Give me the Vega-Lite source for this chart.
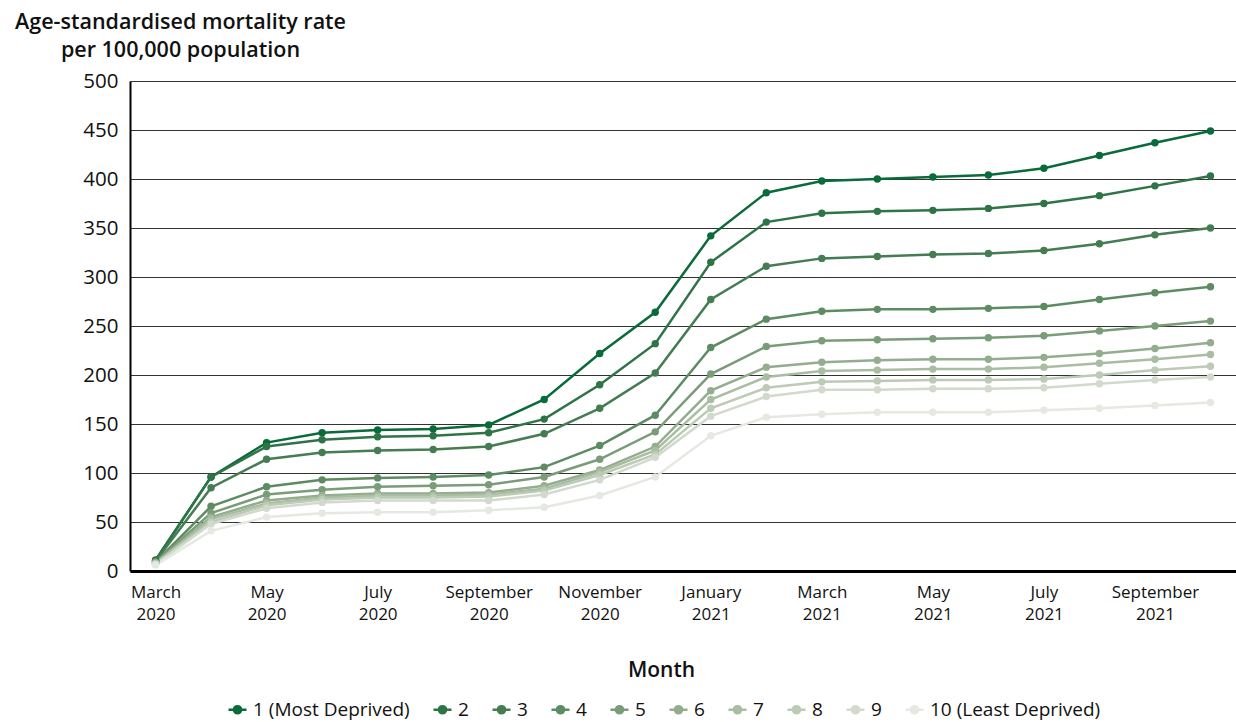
{
  "$schema": "https://vega.github.io/schema/vega-lite/v6.json",
  "autosize": "none",
  "width": 1106,
  "height": 490,
  "padding": {"left": 130, "top": 81, "right": 0, "bottom": 151},
  "background": "white",
  "config": {
    "font": "Open Sans",
    "view": {"stroke": null}
  },
  "data": {
    "values": [
      {"month": "March 2020", "g1": 11, "g2": 11, "g3": 10, "g4": 9, "g5": 9, "g6": 8, "g7": 8, "g8": 7, "g9": 7, "g10": 6},
      {"month": "April 2020", "g1": 96, "g2": 96, "g3": 85, "g4": 66, "g5": 59, "g6": 55, "g7": 53, "g8": 50, "g9": 48, "g10": 41},
      {"month": "May 2020", "g1": 131, "g2": 127, "g3": 114, "g4": 86, "g5": 78, "g6": 72, "g7": 69, "g8": 67, "g9": 64, "g10": 55},
      {"month": "June 2020", "g1": 141, "g2": 134, "g3": 121, "g4": 93, "g5": 83, "g6": 77, "g7": 75, "g8": 73, "g9": 70, "g10": 59},
      {"month": "July 2020", "g1": 144, "g2": 137, "g3": 123, "g4": 95, "g5": 86, "g6": 79, "g7": 77, "g8": 75, "g9": 72, "g10": 60},
      {"month": "August 2020", "g1": 145, "g2": 138, "g3": 124, "g4": 96, "g5": 87, "g6": 79, "g7": 77, "g8": 75, "g9": 72, "g10": 60},
      {"month": "September 2020", "g1": 149, "g2": 141, "g3": 127, "g4": 98, "g5": 88, "g6": 80, "g7": 78, "g8": 76, "g9": 72, "g10": 62},
      {"month": "October 2020", "g1": 175, "g2": 155, "g3": 140, "g4": 106, "g5": 96, "g6": 87, "g7": 84, "g8": 82, "g9": 78, "g10": 65},
      {"month": "November 2020", "g1": 222, "g2": 190, "g3": 166, "g4": 128, "g5": 114, "g6": 103, "g7": 101, "g8": 98, "g9": 93, "g10": 77},
      {"month": "December 2020", "g1": 264, "g2": 232, "g3": 202, "g4": 159, "g5": 142, "g6": 127, "g7": 123, "g8": 119, "g9": 116, "g10": 96},
      {"month": "January 2021", "g1": 342, "g2": 315, "g3": 277, "g4": 228, "g5": 201, "g6": 184, "g7": 175, "g8": 166, "g9": 158, "g10": 138},
      {"month": "February 2021", "g1": 386, "g2": 356, "g3": 311, "g4": 257, "g5": 229, "g6": 208, "g7": 198, "g8": 187, "g9": 178, "g10": 157},
      {"month": "March 2021", "g1": 398, "g2": 365, "g3": 319, "g4": 265, "g5": 235, "g6": 213, "g7": 204, "g8": 193, "g9": 185, "g10": 160},
      {"month": "April 2021", "g1": 400, "g2": 367, "g3": 321, "g4": 267, "g5": 236, "g6": 215, "g7": 205, "g8": 194, "g9": 185, "g10": 162},
      {"month": "May 2021", "g1": 402, "g2": 368, "g3": 323, "g4": 267, "g5": 237, "g6": 216, "g7": 206, "g8": 195, "g9": 186, "g10": 162},
      {"month": "June 2021", "g1": 404, "g2": 370, "g3": 324, "g4": 268, "g5": 238, "g6": 216, "g7": 206, "g8": 195, "g9": 186, "g10": 162},
      {"month": "July 2021", "g1": 411, "g2": 375, "g3": 327, "g4": 270, "g5": 240, "g6": 218, "g7": 208, "g8": 196, "g9": 187, "g10": 164},
      {"month": "August 2021", "g1": 424, "g2": 383, "g3": 334, "g4": 277, "g5": 245, "g6": 222, "g7": 212, "g8": 200, "g9": 191, "g10": 166},
      {"month": "September 2021", "g1": 437, "g2": 393, "g3": 343, "g4": 284, "g5": 250, "g6": 227, "g7": 216, "g8": 205, "g9": 195, "g10": 169},
      {"month": "October 2021", "g1": 449, "g2": 403, "g3": 350, "g4": 290, "g5": 255, "g6": 233, "g7": 221, "g8": 209, "g9": 198, "g10": 172}
    ]
  },
  "transform": [
    {"fold": ["g1", "g2", "g3", "g4", "g5", "g6", "g7", "g8", "g9", "g10"], "as": ["group", "rate"]}
  ],
  "mark": {"type": "line", "strokeWidth": 2.5, "point": {"filled": true, "size": 55}},
  "encoding": {
    "x": {
      "field": "month",
      "type": "ordinal",
      "sort": null,
      "scale": {"type": "point", "padding": 0.46},
      "axis": {
        "title": "Month",
        "titleFont": "Open Sans",
        "titleFontSize": 21,
        "titleFontWeight": 600,
        "titleColor": "#111",
        "titleX": 531,
        "titleY": 105,
        "titleBaseline": "alphabetic",
        "labelAngle": 0,
        "labelFontSize": 17,
        "labelColor": "#111",
        "labelPadding": 13,
        "labelLineHeight": 22,
        "labelBaseline": "top",
        "labelExpr": "test(/^(April|June|August|October|December|February)/, datum.label) ? '' : split(datum.label, ' ')",
        "ticks": false,
        "grid": false,
        "domainColor": "#000",
        "domainWidth": 3,
        "labelOverlap": false
      }
    },
    "y": {
      "field": "rate",
      "type": "quantitative",
      "scale": {"domain": [0, 500]},
      "axis": {
        "values": [0, 50, 100, 150, 200, 250, 300, 350, 400, 450, 500],
        "title": ["Age-standardised mortality rate", "per 100,000 population"],
        "titleAngle": 0,
        "titleAlign": "center",
        "titleBaseline": "alphabetic",
        "titleX": 50,
        "titleY": -53,
        "titleLineHeight": 28,
        "titleFontSize": 21.5,
        "titleFontWeight": 600,
        "titleColor": "#111",
        "labelFontSize": 20.5,
        "labelColor": "#111",
        "labelPadding": 12,
        "ticks": false,
        "grid": true,
        "gridColor": "#333",
        "gridWidth": 1,
        "domainColor": "#000",
        "domainWidth": 2
      }
    },
    "color": {
      "field": "group",
      "type": "nominal",
      "scale": {
        "domain": ["g1", "g2", "g3", "g4", "g5", "g6", "g7", "g8", "g9", "g10"],
        "range": ["#0a6b3a", "#2f7447", "#457c52", "#5e8c62", "#7a9c78", "#93ad8e", "#a9bda2", "#bccab6", "#d1dacc", "#e5e9e2"]
      },
      "legend": {
        "title": null,
        "orient": "none",
        "legendX": 98,
        "legendY": 619,
        "direction": "horizontal",
        "columns": 10,
        "columnPadding": 18,
        "labelFontSize": 19,
        "labelLimit": 400,
        "labelColor": "#111",
        "labelOffset": 6,
        "symbolType": "M-1.5,0L1.5,0M-0.6,0A0.6,0.6,0,1,1,0.6,0A0.6,0.6,0,1,1,-0.6,0",
        "symbolSize": 144,
        "symbolStrokeWidth": 2.5,
        "labelExpr": "datum.label == 'g1' ? '1 (Most Deprived)' : datum.label == 'g10' ? '10 (Least Deprived)' : replace(datum.label, 'g', '')"
      }
    }
  }
}
